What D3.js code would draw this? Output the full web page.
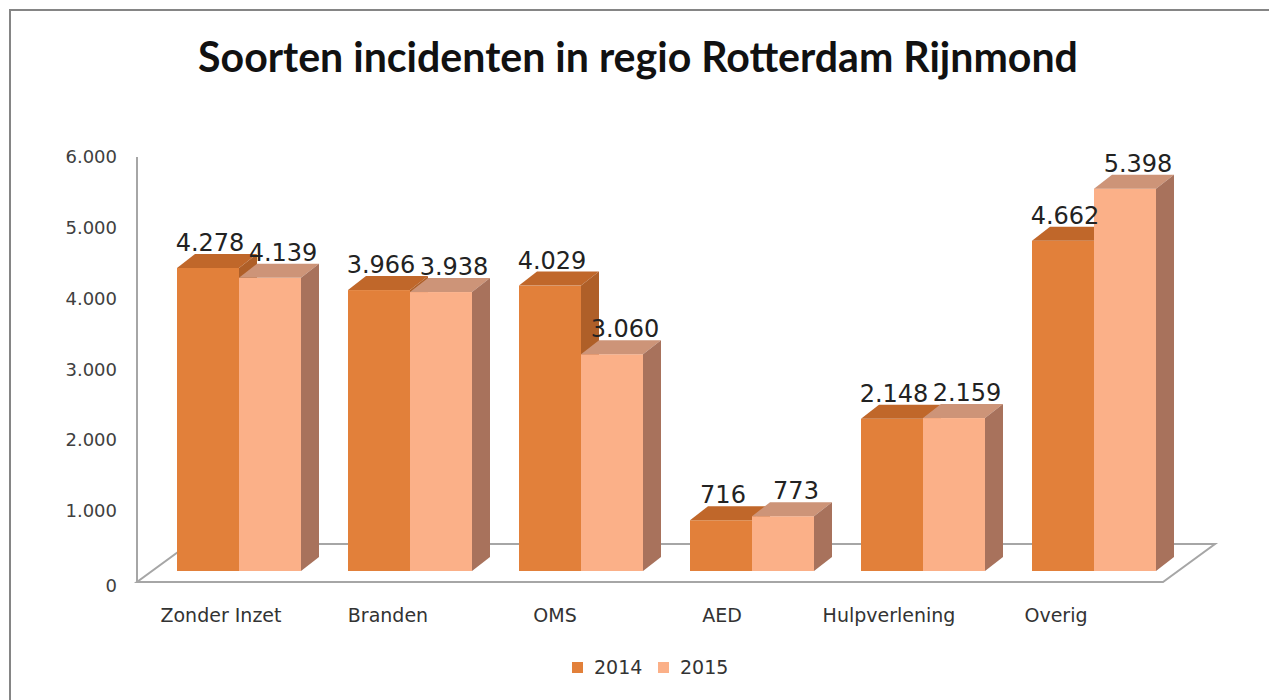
<!DOCTYPE html>
<html>
<head>
<meta charset="utf-8">
<script src="https://cdn.jsdelivr.net/npm/d3@7"></script>
<style>
  body { margin: 0; background: #fff; }
  svg { display: block; }
</style>
</head>
<body>
<div class="container"></div>
<script>
// data
const categories = ["Zonder Inzet", "Branden", "OMS", "AED", "Hulpverlening", "Overig"];
const series = ["2014", "2015"];
const values2014 = [4278, 3966, 4029, 716, 2148, 4662];
const values2015 = [4139, 3938, 3060, 773, 2159, 5398];
const yTicks = [0, 1000, 2000, 3000, 4000, 5000, 6000];
const title = "Soorten incidenten in regio Rotterdam Rijnmond";

d3.select(".container").call(chart);

function chart(container) {
  //size
  const width = 1269;
  const height = 700;

  const colors = {
    "2014": { front: "#E2803A", top: "#C0672A", side: "#AF5F28" },
    "2015": { front: "#FBB088", top: "#CD9478", side: "#A8725C" },
  };
  // label shift per series (excel puts them a bit off centre)
  const labelShift = { "2014": 2, "2015": 13 };

  const fmt = (v) => d3.format(",")(v).replace(/,/g, ".");

  //scales
  const x = d3.scaleBand().domain(categories).range([137, 1163]);
  const y = d3.scaleLinear().domain([0, 6000]).range([582, 157]);
  const labelX = d3.scalePoint().domain(categories).range([221, 1056]);

  const barW = 62;
  const barOffset = 40;
  const lift = 11; // bars stand in the middle of the floor depth
  const depth = { dx: 18, dy: -14 };
  const floorDepth = { dx: 52, dy: -38 };

  const svg = container
    .append("svg")
    .attr("width", width)
    .attr("height", height);

  // border
  svg
    .append("path")
    .attr("d", `M10,${height} L10,10 L${width},10`)
    .attr("fill", "none")
    .attr("stroke", "#858585")
    .attr("stroke-width", 2);

  // title
  const titleText = svg
    .append("text")
    .attr("x", 638)
    .attr("y", 72)
    .attr("text-anchor", "middle")
    .attr("font-family", "Lato, 'Open Sans', sans-serif")
    .attr("font-weight", "bold")
    .attr("font-size", 34)
    .attr("fill", "#111")
    .text(title);
  const tw = titleText.node().getComputedTextLength();
  titleText.attr("font-size", (34 * 880) / tw);

  // floor
  const [x0, x1] = x.range();
  const y0 = y(0);
  svg
    .append("path")
    .attr(
      "d",
      `M${x0},${y0} L${x1},${y0} L${x1 + floorDepth.dx},${y0 + floorDepth.dy} L${x0 + floorDepth.dx},${y0 + floorDepth.dy} Z`
    )
    .attr("fill", "#fff")
    .attr("stroke", "#a6a6a6")
    .attr("stroke-width", 2);

  // y axis line
  svg
    .append("line")
    .attr("x1", x0)
    .attr("x2", x0)
    .attr("y1", y(6000))
    .attr("y2", y0)
    .attr("stroke", "#a6a6a6")
    .attr("stroke-width", 2);

  // y tick labels
  svg
    .append("g")
    .selectAll("text")
    .data(yTicks)
    .join("text")
    .attr("x", 117)
    .attr("y", (d) => y(d) + (d === 0 ? 5 : 1))
    .attr("text-anchor", "end")
    .attr("dominant-baseline", "middle")
    .attr("font-family", "'DejaVu Sans', sans-serif")
    .attr("font-size", 18)
    .attr("fill", "#404040")
    .text((d) => fmt(d));

  // bars
  const rows = categories.map((c, i) => ({
    cat: c,
    bars: [
      { s: "2014", v: values2014[i], j: 0 },
      { s: "2015", v: values2015[i], j: 1 },
    ],
  }));

  const gBars = svg.append("g");
  rows.forEach((row) => {
    row.bars.forEach((b) => {
      const bx = x(row.cat) + barOffset + b.j * barW;
      const bottom = y0 - lift;
      const top = y(b.v) - lift;
      const c = colors[b.s];
      const g = gBars.append("g");
      g.append("rect")
        .attr("x", bx)
        .attr("y", top)
        .attr("width", barW)
        .attr("height", bottom - top)
        .attr("fill", c.front);
      g.append("path")
        .attr(
          "d",
          `M${bx},${top} L${bx + barW},${top} L${bx + barW + depth.dx},${top + depth.dy} L${bx + depth.dx},${top + depth.dy} Z`
        )
        .attr("fill", c.top);
      g.append("path")
        .attr(
          "d",
          `M${bx + barW},${top} L${bx + barW + depth.dx},${top + depth.dy} L${bx + barW + depth.dx},${bottom + depth.dy} L${bx + barW},${bottom} Z`
        )
        .attr("fill", c.side);
      b.labelX = bx + barW / 2 + labelShift[b.s];
      b.labelY = top - 17;
    });
  });

  // value labels
  svg
    .append("g")
    .selectAll("text")
    .data(rows.flatMap((r) => r.bars))
    .join("text")
    .attr("x", (d) => d.labelX)
    .attr("y", (d) => d.labelY)
    .attr("text-anchor", "middle")
    .attr("font-family", "'DejaVu Sans', sans-serif")
    .attr("font-size", 24)
    .attr("fill", "#222")
    .text((d) => fmt(d.v));

  // category labels
  svg
    .append("g")
    .selectAll("text")
    .data(categories)
    .join("text")
    .attr("x", (d) => labelX(d))
    .attr("y", 622)
    .attr("text-anchor", "middle")
    .attr("font-family", "'DejaVu Sans', sans-serif")
    .attr("font-size", 19)
    .attr("fill", "#333")
    .text((d) => d);

  // legend
  const legend = svg.append("g").attr("transform", "translate(572,662)");
  const items = legend
    .selectAll("g")
    .data(series)
    .join("g")
    .attr("transform", (d, i) => `translate(${i * 86},0)`);
  items
    .append("rect")
    .attr("width", 11)
    .attr("height", 11)
    .attr("fill", (d) => colors[d].front);
  items
    .append("text")
    .attr("x", 22)
    .attr("y", 6)
    .attr("dominant-baseline", "middle")
    .attr("font-family", "'DejaVu Sans', sans-serif")
    .attr("font-size", 19)
    .attr("fill", "#333")
    .text((d) => d);
}
</script>
</body>
</html>
